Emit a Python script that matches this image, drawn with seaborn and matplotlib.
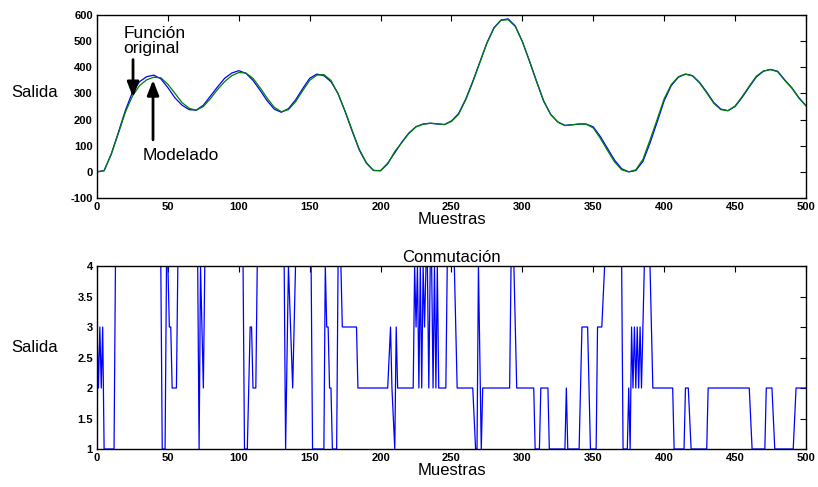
import matplotlib
matplotlib.use("Agg")
import matplotlib.pyplot as plt
import seaborn as sns
import pandas as pd

# Samples read every 5 steps off the reference
samples = list(range(0, 505, 5))

original = [0, 5, 68, 150, 235, 305, 345, 364, 370, 356,
            322, 283, 255, 238, 236, 255, 290, 325, 358, 378,
            387, 377, 350, 312, 272, 240, 228, 242, 275, 318,
            358, 374, 368, 345, 300, 230, 155, 83, 33, 5,
            5, 33, 73, 114, 149, 173, 183, 186, 183, 181,
            195, 223, 278, 346, 420, 494, 552, 581, 585, 558,
            498, 423, 345, 270, 219, 191, 178, 180, 183, 183,
            172, 135, 90, 45, 12, 0, 5, 40, 110, 190,
            272, 330, 362, 374, 368, 342, 305, 265, 240, 234,
            250, 285, 325, 363, 385, 392, 385, 352, 322, 284,
            253]

modelado = [0, 4, 66, 146, 228, 290, 330, 352, 362, 360,
            335, 300, 265, 243, 236, 250, 280, 315, 345, 368,
            380, 378, 358, 322, 282, 247, 230, 238, 268, 310,
            350, 370, 372, 350, 298, 232, 158, 86, 35, 6,
            4, 30, 78, 112, 147, 172, 182, 186, 184, 181,
            193, 220, 275, 343, 418, 492, 550, 580, 582, 556,
            498, 425, 347, 272, 220, 190, 177, 180, 183, 182,
            168, 128, 82, 38, 8, 0, 8, 48, 122, 200,
            280, 334, 364, 374, 367, 340, 302, 262, 238, 234,
            252, 288, 328, 366, 386, 391, 383, 350, 320, 282,
            252]

# Switching signal breakpoints (sample, state)
switch_x = [0, 1, 2, 3, 4, 5, 12, 13,
            45, 46, 48, 49, 50, 51, 52, 53, 56, 57,
            71, 72, 73, 75, 76,
            103, 104, 106, 108, 109, 110, 112, 113,
            132, 133, 135, 138, 140,
            151, 152, 160, 161, 162, 163, 164, 165, 166, 169, 170, 172, 173, 183, 184,
            205, 207, 208, 210, 211, 212,
            223, 224, 225, 226, 227, 228, 229, 230, 231, 232, 233, 234, 235, 236,
            237, 238, 239, 240, 241, 246, 247, 252, 254,
            265, 267, 268, 269, 271, 272,
            291, 292, 294, 296, 308, 309, 312, 313, 318, 319, 330, 331, 332, 340,
            342, 346, 348, 352, 353, 356, 358,
            370, 371, 374, 375, 376, 377, 378, 379, 380, 381, 382, 383, 384, 386,
            390, 392,
            406, 407, 414, 415, 417, 419, 430, 431, 460, 462, 471, 472, 476, 478,
            491, 493, 500]
switch_y = [3, 2, 3, 2, 3, 1, 1, 4,
            4, 1, 1, 4, 4, 3, 3, 2, 2, 4,
            4, 1, 4, 2, 4,
            4, 1, 1, 3, 3, 2, 2, 4,
            4, 1, 4, 2, 4,
            4, 1, 1, 4, 3, 3, 2, 2, 1, 1, 4, 4, 3, 3, 2,
            2, 3, 2, 1, 3, 2,
            2, 4, 3, 4, 2, 4, 2, 4, 3, 4, 4, 2, 4, 4,
            2, 4, 2, 4, 2, 2, 4, 4, 2,
            2, 1, 1, 4, 1, 2,
            2, 4, 4, 2, 2, 1, 1, 2, 2, 1, 1, 2, 1, 1,
            3, 3, 1, 1, 3, 3, 4,
            4, 1, 1, 2, 1, 3, 2, 3, 2, 3, 2, 3, 2, 4,
            4, 2,
            2, 1, 1, 2, 2, 1, 1, 2, 2, 1, 1, 2, 2, 1,
            1, 2, 2]

top_df = pd.DataFrame({"muestra": samples, "original": original, "modelado": modelado})
sw_df = pd.DataFrame({"muestra": switch_x, "estado": switch_y})

sns.set_style("white")
plt.rcParams["font.family"] = ["Liberation Sans", "DejaVu Sans"]
plt.rcParams["axes.unicode_minus"] = False
plt.rcParams["text.color"] = "black"
plt.rcParams["axes.labelcolor"] = "black"
plt.rcParams["xtick.color"] = "black"
plt.rcParams["ytick.color"] = "black"

fig = plt.figure(figsize=(8.18, 4.87), dpi=100)
ax1 = fig.add_axes([0.1186, 0.5934, 0.8667, 0.3758])
ax2 = fig.add_axes([0.1186, 0.078, 0.8667, 0.3758])

sns.lineplot(data=top_df, x="muestra", y="original", ax=ax1, color="#0000ff",
             linewidth=0.9, estimator=None, sort=False)
sns.lineplot(data=top_df, x="muestra", y="modelado", ax=ax1, color="#008000",
             linewidth=0.9, estimator=None, sort=False)
ax1.set_xlim(0, 500)
ax1.set_ylim(-100, 600)
ax1.set_xticks(range(0, 501, 50))
ax1.set_yticks(range(-100, 601, 100))
ax1.set_xlabel("Muestras", fontsize=12, labelpad=0)
ax1.set_ylabel("Salida", fontsize=12, rotation=0, va="center", ha="center")
ax1.yaxis.set_label_coords(-0.088, 0.579)

ax1.annotate("", xy=(25.4, 275), xytext=(25.4, 440),
             arrowprops=dict(arrowstyle="-|>,head_width=0.35,head_length=0.9",
                             color="black", lw=2))
ax1.text(18.5, 500, "Función\noriginal", fontsize=12.5, ha="left", va="center",
         linespacing=0.95)
ax1.annotate("", xy=(39.5, 362), xytext=(39.5, 112),
             arrowprops=dict(arrowstyle="-|>,head_width=0.35,head_length=0.9",
                             color="black", lw=2))
ax1.text(32.5, 64, "Modelado", fontsize=12.5, ha="left", va="center")

sns.lineplot(data=sw_df, x="muestra", y="estado", ax=ax2, color="#0000ff",
             linewidth=0.9, estimator=None, sort=False)
ax2.set_xlim(0, 500)
ax2.set_ylim(1, 4)
ax2.set_xticks(range(0, 501, 50))
ax2.set_yticks([1, 1.5, 2, 2.5, 3, 3.5, 4])
ax2.set_yticklabels(["1", "1.5", "2", "2.5", "3", "3.5", "4"])
ax2.set_title("Conmutación", fontsize=12, pad=3)
ax2.set_xlabel("Muestras", fontsize=12, labelpad=0)
ax2.set_ylabel("Salida", fontsize=12, rotation=0, va="center", ha="center")
ax2.yaxis.set_label_coords(-0.088, 0.557)

for ax in (ax1, ax2):
    ax.tick_params(direction="in", top=True, right=True, length=4, width=0.8,
                   labelsize=8, pad=3, color="black")
    for lab in ax.get_xticklabels() + ax.get_yticklabels():
        lab.set_fontweight("bold")
    for sp in ax.spines.values():
        sp.set_color("black")
        sp.set_linewidth(1.0)

fig.savefig("out.png", dpi=100)
